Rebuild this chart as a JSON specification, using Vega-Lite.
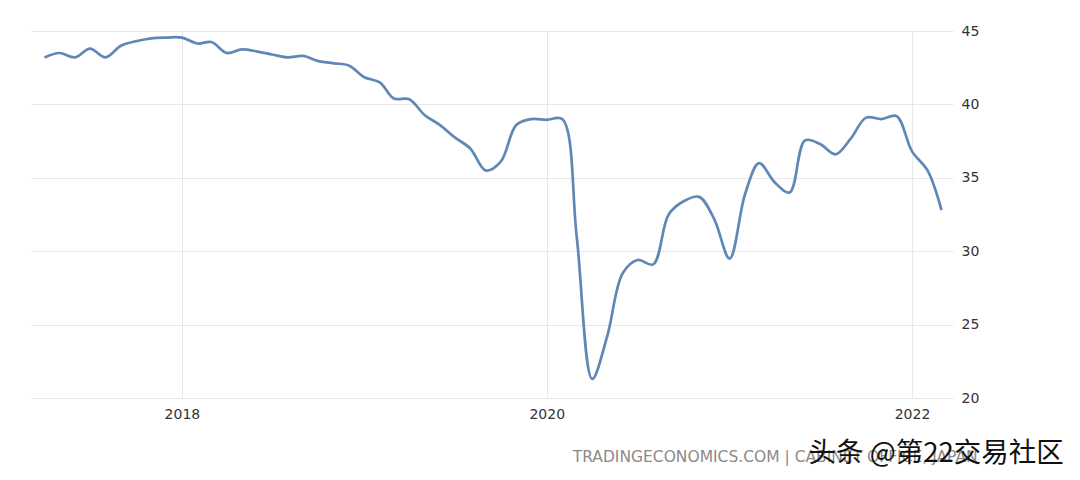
{
  "$schema": "https://vega.github.io/schema/vega-lite/v6.json",
  "width": 922,
  "height": 367,
  "autosize": {"type": "none"},
  "padding": {"left": 31, "top": 31, "right": 127, "bottom": 82},
  "background": "white",
  "config": {
    "view": {"stroke": null},
    "font": "DejaVu Sans"
  },
  "datasets": {
    "series": [
      {"date": "2017-04-01", "value": 43.2},
      {"date": "2017-05-01", "value": 43.5},
      {"date": "2017-06-01", "value": 43.2},
      {"date": "2017-07-01", "value": 43.8},
      {"date": "2017-08-01", "value": 43.2},
      {"date": "2017-09-01", "value": 44.0},
      {"date": "2017-10-01", "value": 44.3},
      {"date": "2017-11-01", "value": 44.5},
      {"date": "2017-12-01", "value": 44.55},
      {"date": "2018-01-01", "value": 44.55},
      {"date": "2018-02-01", "value": 44.15},
      {"date": "2018-03-01", "value": 44.25},
      {"date": "2018-04-01", "value": 43.5},
      {"date": "2018-05-01", "value": 43.75},
      {"date": "2018-06-01", "value": 43.6},
      {"date": "2018-07-01", "value": 43.4},
      {"date": "2018-08-01", "value": 43.2},
      {"date": "2018-09-01", "value": 43.3},
      {"date": "2018-10-01", "value": 42.95},
      {"date": "2018-11-01", "value": 42.8},
      {"date": "2018-12-01", "value": 42.65},
      {"date": "2019-01-01", "value": 41.85},
      {"date": "2019-02-01", "value": 41.5},
      {"date": "2019-03-01", "value": 40.4},
      {"date": "2019-04-01", "value": 40.35},
      {"date": "2019-05-01", "value": 39.3},
      {"date": "2019-06-01", "value": 38.6},
      {"date": "2019-07-01", "value": 37.75},
      {"date": "2019-08-01", "value": 37.0},
      {"date": "2019-09-01", "value": 35.5},
      {"date": "2019-10-01", "value": 36.1},
      {"date": "2019-11-01", "value": 38.6},
      {"date": "2019-12-01", "value": 39.0},
      {"date": "2020-01-01", "value": 38.95},
      {"date": "2020-02-01", "value": 39.0},
      {"date": "2020-03-01", "value": 31.0},
      {"date": "2020-04-01", "value": 21.3},
      {"date": "2020-05-01", "value": 24.2},
      {"date": "2020-06-01", "value": 28.5},
      {"date": "2020-07-01", "value": 29.4},
      {"date": "2020-08-01", "value": 29.1},
      {"date": "2020-09-01", "value": 32.5},
      {"date": "2020-10-01", "value": 33.4},
      {"date": "2020-11-01", "value": 33.7},
      {"date": "2020-12-01", "value": 32.2},
      {"date": "2021-01-01", "value": 29.5},
      {"date": "2021-02-01", "value": 33.9},
      {"date": "2021-03-01", "value": 36.0},
      {"date": "2021-04-01", "value": 34.7},
      {"date": "2021-05-01", "value": 34.0},
      {"date": "2021-06-01", "value": 37.55},
      {"date": "2021-07-01", "value": 37.3},
      {"date": "2021-08-01", "value": 36.6},
      {"date": "2021-09-01", "value": 37.7},
      {"date": "2021-10-01", "value": 39.1},
      {"date": "2021-11-01", "value": 39.0},
      {"date": "2021-12-01", "value": 39.2},
      {"date": "2022-01-01", "value": 36.8},
      {"date": "2022-02-01", "value": 35.5},
      {"date": "2022-03-01", "value": 32.8}
    ],
    "notes": [
      {"source": "TRADINGECONOMICS.COM | CABINET OFFICE, JAPAN", "mark": "头条 @第22交易社区"}
    ]
  },
  "layer": [
    {
      "data": {"name": "series"},
      "mark": {"type": "line", "interpolate": "catmull-rom", "color": "#5f88b7", "strokeWidth": 2.7, "clip": false},
      "encoding": {
        "x": {
          "field": "date",
          "type": "temporal",
          "scale": {"type": "utc", "domain": [{"year": 2017, "month": 3, "date": 5, "utc": true}, {"year": 2022, "month": 3, "date": 24, "utc": true}]},
          "axis": {
            "title": null,
            "values": [{"year": 2018, "month": 1, "date": 1, "utc": true}, {"year": 2020, "month": 1, "date": 1, "utc": true}, {"year": 2022, "month": 1, "date": 1, "utc": true}],
            "format": "%Y",
            "formatType": "utc",
            "grid": true,
            "gridColor": "#e8e8e8",
            "gridWidth": 1,
            "ticks": false,
            "domain": false,
            "labelFontSize": 14,
            "labelColor": "#333333",
            "labelPadding": 9,
            "labelFont": "DejaVu Sans"
          }
        },
        "y": {
          "field": "value",
          "type": "quantitative",
          "scale": {"domain": [20, 45], "nice": false, "zero": false},
          "axis": {
            "orient": "right",
            "title": null,
            "values": [20, 25, 30, 35, 40, 45],
            "grid": true,
            "gridColor": "#e8e8e8",
            "gridWidth": 1,
            "ticks": false,
            "domain": false,
            "labelFontSize": 14,
            "labelColor": "#333333",
            "labelPadding": 8,
            "labelFont": "DejaVu Sans"
          }
        }
      }
    },
    {
      "data": {"name": "notes"},
      "mark": {"type": "text", "align": "left", "baseline": "middle", "fontSize": 15.5, "font": "DejaVu Sans", "color": "#8a8a8a"},
      "encoding": {
        "x": {"datum": {"year": 2020, "month": 2, "date": 22, "utc": true}, "type": "temporal"},
        "y": {"datum": 15.95, "type": "quantitative"},
        "text": {"field": "source"}
      }
    },
    {
      "data": {"name": "notes"},
      "mark": {"type": "text", "align": "left", "baseline": "middle", "fontSize": 27.5, "font": "Noto Sans CJK SC", "color": "#111111"},
      "encoding": {
        "x": {"datum": {"year": 2021, "month": 6, "date": 8, "utc": true}, "type": "temporal"},
        "y": {"datum": 16.2, "type": "quantitative"},
        "text": {"field": "mark"}
      }
    }
  ]
}
